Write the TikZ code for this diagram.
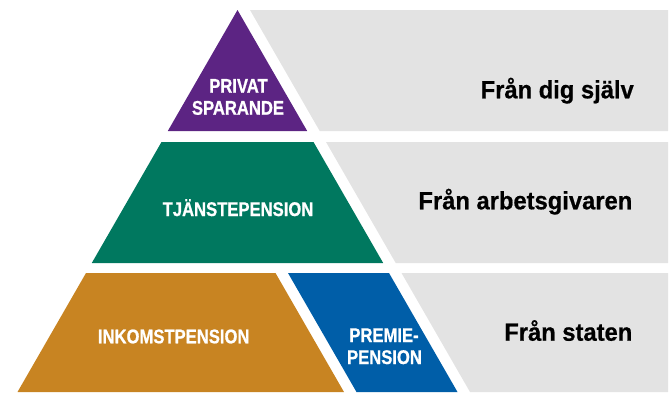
\documentclass[tikz,border=0pt]{standalone}
\usepackage{fontspec}
\newfontfamily\labfont{Liberation Sans}[FakeStretch=0.84,FakeBold=0.8]
\newfontfamily\srcfont{Liberation Sans}[FakeStretch=0.95,FakeBold=0.6]
\definecolor{cpurple}{HTML}{5C2483}
\definecolor{cgreen}{HTML}{00785F}
\definecolor{corange}{HTML}{C88422}
\definecolor{cblue}{HTML}{005EA8}
\definecolor{cgray}{HTML}{E3E3E3}
\tikzset{
  tier/.style={draw=none},
  band/.style={fill=cgray,draw=none},
  lab/.style={text=white,inner sep=0pt,font=\labfont\bfseries\fontsize{19.8}{22}\selectfont},
  src/.style={text=black,inner sep=0pt,anchor=base east,font=\srcfont\bfseries\fontsize{25}{28}\selectfont}
}
\begin{document}
\begin{tikzpicture}[x=1pt,y=-1pt]
\useasboundingbox (0,0) rectangle (672,392);
% grey bands
\fill[band] (250,10) -- (668,10) -- (668,131) -- (319.7,131) -- cycle;
\fill[band] (326,142) -- (668,142) -- (668,263) -- (395.7,263) -- cycle;
\fill[band] (401.5,273) -- (668,273) -- (668,392) -- (470,392) -- cycle;
% pyramid
\fill[tier,cpurple] (237.5,10) -- (307.2,131) -- (167.8,131) -- cycle;
\fill[tier,cgreen] (161.5,142) -- (313.5,142) -- (383.2,263) -- (91.8,263) -- cycle;
\fill[tier,corange] (86,273) -- (275.5,273) -- (344,392) -- (17.5,392) -- cycle;
\fill[tier,cblue] (288,273) -- (389,273) -- (457.5,392) -- (356.5,392) -- cycle;
% labels
\node[lab,anchor=base] (privat) at (238.5,92.7) {PRIVAT};
\node[lab,anchor=base] (sparande) at (238,114.7) {SPARANDE};
\node[lab,anchor=base] (tjanste) at (238,216) {TJÄNSTEPENSION};
\node[lab,anchor=base] (inkomst) at (173.7,343.3) {INKOMSTPENSION};
\node[lab,anchor=base] (premie) at (384,342) {PREMIE-};
\node[lab,anchor=base] (pension) at (384.5,364) {PENSION};
\node[src] (sjalv) at (634,98.3) {Från dig själv};
\node[src] (arbets) at (632.5,209.3) {Från arbetsgivaren};
\node[src] (staten) at (632.5,340.7) {Från staten};
\end{tikzpicture}
\end{document}
